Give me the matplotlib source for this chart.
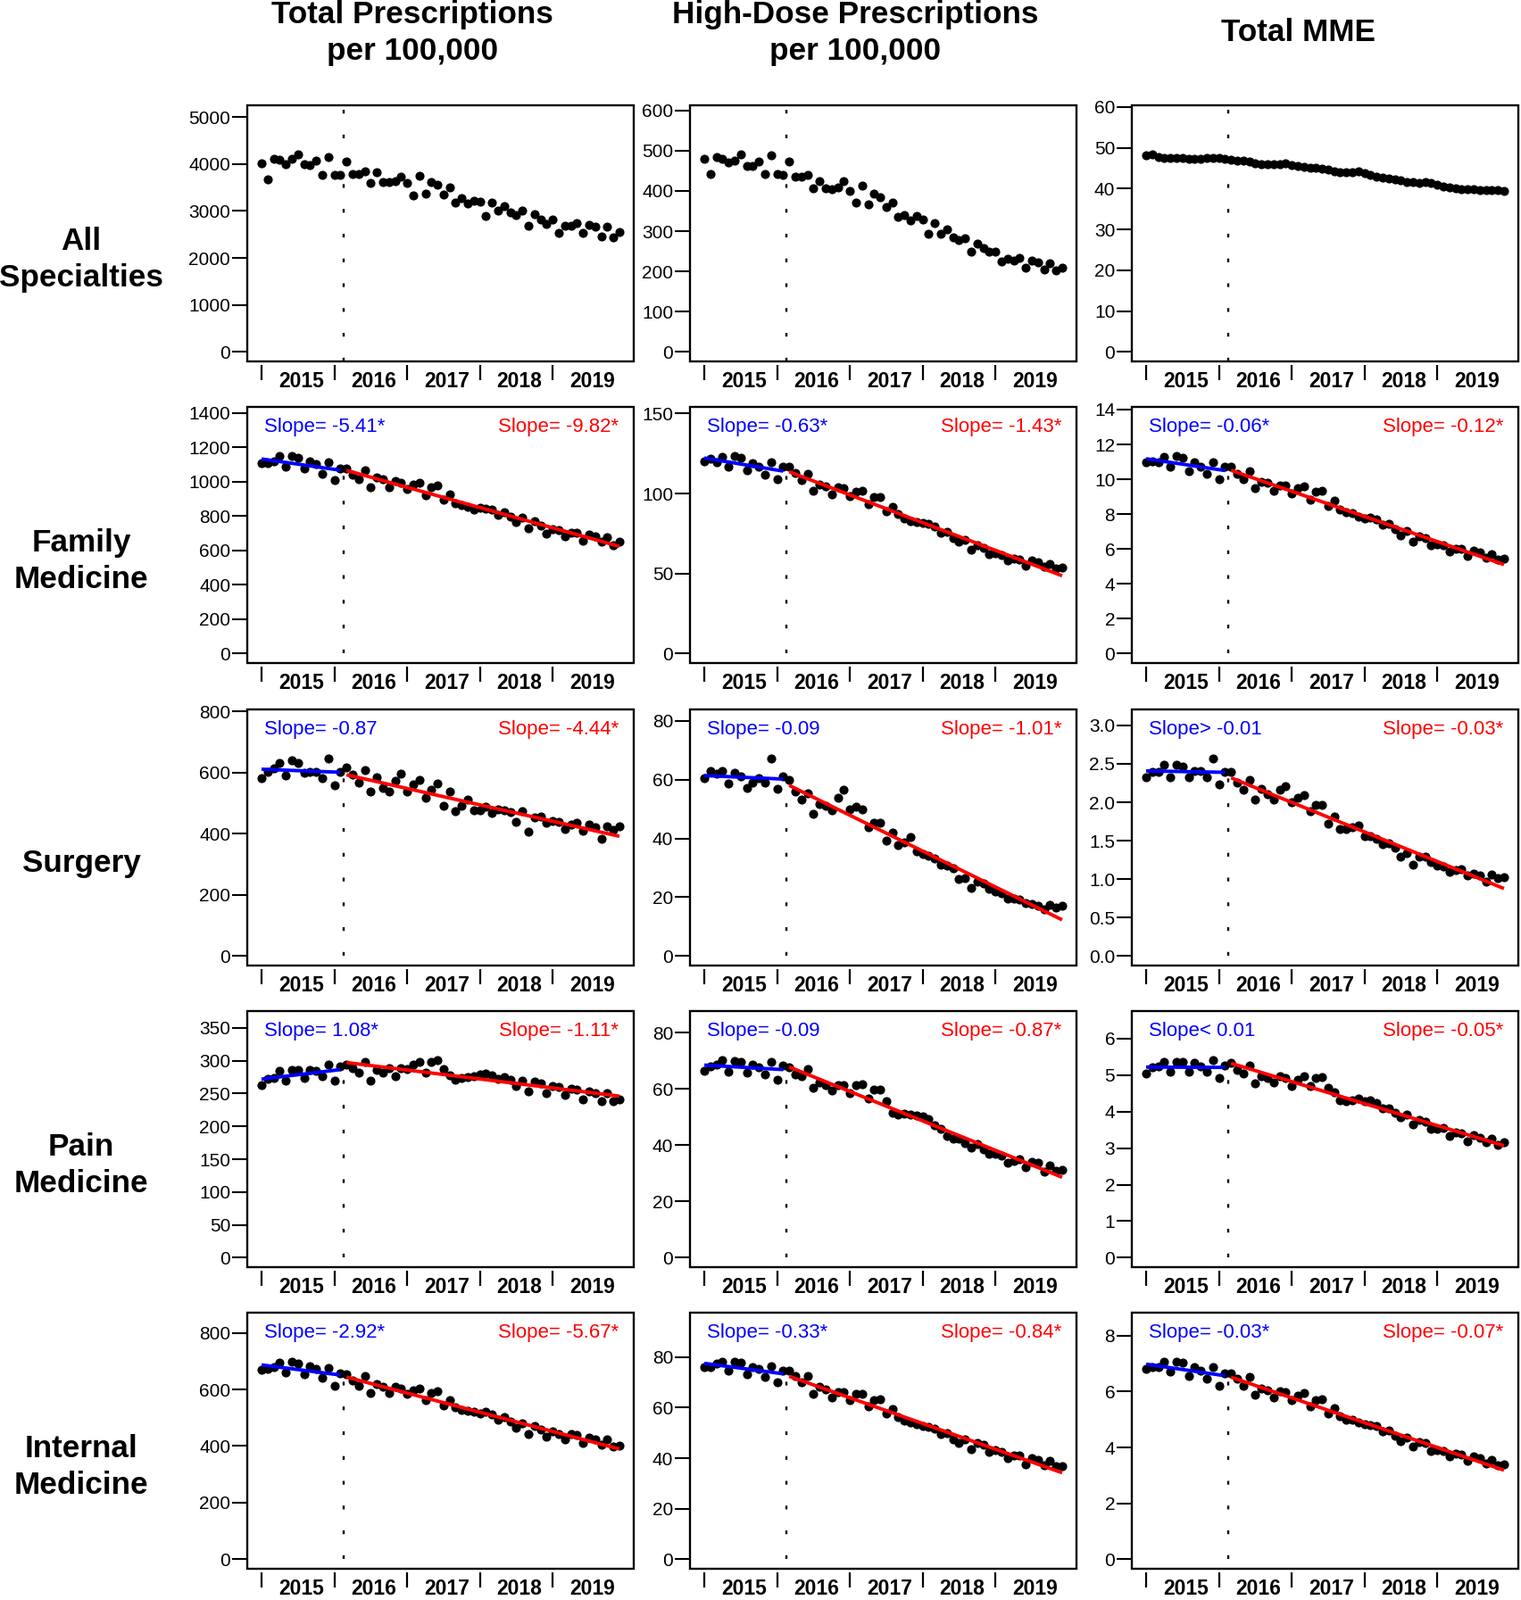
import numpy as np
import matplotlib
matplotlib.use("Agg")
import matplotlib.pyplot as plt
from matplotlib.patches import Rectangle
from matplotlib.ticker import NullFormatter

plt.rcParams['font.family'] = ['Liberation Sans', 'DejaVu Sans']
plt.rcParams['lines.scale_dashes'] = False

# ---------------- data ----------------
months = np.arange(60)                 # Jan 2015 .. Dec 2019
year_labels = ['2015', '2016', '2017', '2018', '2019']
year_starts = [0, 12, 24, 36, 48]
year_mids = [6.5, 18.5, 30.5, 42.5, 54.5]
break_x = 13.5                          # between Feb and Mar 2016
n_pre = 14

col_titles = ['Total Prescriptions\nper 100,000',
              'High-Dose Prescriptions\nper 100,000',
              'Total MME']
row_titles = ['All\nSpecialties', 'Family\nMedicine', 'Surgery',
              'Pain\nMedicine', 'Internal\nMedicine']

all_total = [4017, 3674, 4112, 4093, 3997, 4105, 4207, 3997, 3985, 4067, 3775, 4156,
             3763, 3763, 4061, 3794, 3794, 3851, 3598, 3820, 3623, 3617, 3629, 3737,
             3598, 3331, 3750, 3363, 3617, 3553, 3344, 3503, 3173, 3268, 3154, 3223,
             3192, 2900, 3173, 3001, 3109, 2963, 2919, 3014, 2678, 2938, 2824, 2728,
             2811, 2538, 2678, 2678, 2747, 2525, 2709, 2665, 2462, 2665, 2443, 2557]
all_hd = [479, 441, 485, 480, 470, 476, 491, 461, 461, 473, 443, 489,
          441, 439, 472, 436, 436, 439, 407, 424, 406, 404, 409, 424,
          400, 370, 413, 367, 394, 384, 359, 370, 335, 339, 327, 337,
          328, 294, 320, 294, 305, 285, 278, 283, 250, 269, 257, 250,
          250, 224, 231, 227, 233, 210, 228, 222, 204, 220, 202, 209]
all_mme = [48.2, 48.4, 47.8, 47.6, 47.6, 47.5, 47.5, 47.3, 47.2, 47.2, 47.4, 47.6,
           47.5, 47.3, 47.1, 46.9, 46.8, 46.6, 46.3, 46.0, 45.9, 45.9, 46.0, 46.3,
           45.8, 45.6, 45.4, 45.2, 45.0, 44.8, 44.6, 44.3, 44.1, 44.0, 44.1, 44.3,
           43.8, 43.4, 43.0, 42.7, 42.5, 42.3, 42.0, 41.7, 41.5, 41.4, 41.5, 41.4,
           41.0, 40.6, 40.2, 40.0, 39.9, 39.9, 39.8, 39.7, 39.6, 39.6, 39.6, 39.5]

fm_total = [1108, 1106, 1115, 1146, 1085, 1149, 1136, 1075, 1118, 1101, 1046, 1111,
            1008, 1077, 1077, 1042, 1015, 1063, 968, 1025, 1015, 968, 1002, 994,
            956, 980, 994, 921, 968, 976, 894, 928, 876, 864, 852, 835,
            847, 842, 835, 807, 821, 795, 764, 790, 726, 769, 743, 697,
            722, 717, 683, 703, 703, 657, 691, 683, 652, 679, 631, 648]
fm_hd = [120.0, 121.7, 119.4, 123.1, 117.0, 123.5, 122.2, 114.3, 118.9, 116.7, 112.0, 119.4,
         108.7, 116.7, 116.7, 113.0, 108.3, 112.4, 101.9, 105.6, 104.3, 99.6, 103.7, 103.3,
         98.5, 100.9, 101.9, 93.1, 97.8, 97.8, 88.9, 91.7, 87.0, 84.3, 83.0, 82.0,
         81.5, 80.9, 79.6, 75.4, 75.9, 72.2, 69.8, 71.3, 64.8, 67.6, 66.1, 62.0,
         62.4, 61.7, 58.0, 59.3, 58.7, 55.0, 58.3, 56.9, 54.1, 56.1, 53.1, 53.7]
fm_mme = [10.97, 11.05, 10.97, 11.31, 10.71, 11.34, 11.22, 10.49, 10.97, 10.71, 10.32, 11.00,
          9.98, 10.71, 10.71, 10.32, 10.00, 10.46, 9.47, 9.86, 9.78, 9.35, 9.64, 9.64,
          9.18, 9.47, 9.57, 8.84, 9.27, 9.35, 8.45, 8.76, 8.28, 8.11, 8.04, 7.87,
          7.77, 7.82, 7.70, 7.40, 7.43, 7.14, 6.80, 7.06, 6.41, 6.72, 6.63, 6.21,
          6.29, 6.21, 5.87, 6.00, 6.00, 5.58, 5.90, 5.78, 5.49, 5.70, 5.41, 5.44]

su_total = [583, 603, 613, 630, 589, 639, 630, 598, 603, 603, 583, 646,
            557, 603, 617, 594, 566, 607, 537, 584, 549, 537, 574, 596,
            537, 562, 576, 518, 544, 564, 490, 537, 474, 490, 513, 476,
            477, 487, 469, 479, 477, 471, 440, 474, 406, 452, 457, 435,
            442, 438, 416, 430, 435, 409, 430, 422, 382, 425, 411, 425]
su_hd = [60.5, 62.8, 62.0, 62.8, 58.7, 62.2, 61.0, 57.1, 59.1, 60.5, 59.1, 67.2,
         56.9, 61.0, 60.0, 55.9, 53.1, 55.4, 48.3, 51.8, 51.0, 49.5, 53.7, 56.7,
         49.8, 50.8, 50.0, 43.7, 45.3, 45.3, 39.2, 41.9, 37.7, 38.5, 40.5, 35.6,
         34.8, 34.1, 33.1, 31.1, 30.8, 29.8, 26.3, 26.5, 23.3, 25.3, 24.7, 23.0,
         22.0, 21.5, 19.6, 19.4, 19.2, 17.9, 17.6, 17.2, 15.9, 17.4, 16.6, 17.2]
su_mme = [2.33, 2.40, 2.40, 2.49, 2.33, 2.49, 2.47, 2.33, 2.41, 2.41, 2.33, 2.57,
          2.23, 2.39, 2.39, 2.26, 2.16, 2.29, 2.03, 2.17, 2.10, 2.03, 2.16, 2.21,
          2.00, 2.06, 2.09, 1.89, 1.96, 1.97, 1.72, 1.82, 1.65, 1.65, 1.68, 1.70,
          1.56, 1.56, 1.53, 1.46, 1.47, 1.41, 1.29, 1.34, 1.19, 1.29, 1.29, 1.22,
          1.18, 1.16, 1.09, 1.12, 1.13, 1.05, 1.07, 1.05, 0.97, 1.06, 1.01, 1.03]

pm_total = [263, 273, 274, 284, 269, 286, 286, 274, 286, 284, 276, 294,
            269, 291, 294, 288, 282, 298, 270, 286, 282, 288, 277, 288,
            287, 294, 298, 282, 298, 301, 287, 278, 271, 274, 275, 277,
            279, 280, 278, 273, 275, 271, 262, 270, 253, 268, 265, 250,
            261, 260, 248, 257, 256, 241, 253, 251, 238, 250, 238, 241]
pm_hd = [66.5, 68.1, 68.6, 70.2, 66.0, 69.7, 69.4, 65.6, 68.6, 67.5, 65.2, 69.4,
         63.3, 68.4, 67.5, 65.2, 64.4, 67.0, 60.2, 62.3, 61.2, 59.3, 61.4, 61.2,
         58.6, 61.2, 61.7, 56.5, 59.8, 59.8, 55.7, 51.5, 50.7, 51.2, 50.7, 50.4,
         50.1, 49.4, 47.0, 45.9, 43.3, 42.4, 42.4, 40.6, 39.1, 40.3, 38.5, 36.9,
         36.9, 36.4, 33.8, 34.3, 35.0, 32.2, 34.0, 33.8, 30.6, 32.7, 30.8, 31.1]
pm_mme = [5.05, 5.21, 5.23, 5.37, 5.08, 5.37, 5.35, 5.08, 5.33, 5.24, 5.08, 5.41,
          4.92, 5.27, 5.33, 5.15, 5.05, 5.27, 4.78, 4.97, 4.92, 4.80, 4.97, 4.92,
          4.70, 4.86, 4.98, 4.70, 4.92, 4.94, 4.66, 4.54, 4.32, 4.29, 4.32, 4.35,
          4.29, 4.32, 4.23, 4.09, 4.10, 3.97, 3.84, 3.91, 3.64, 3.78, 3.72, 3.52,
          3.53, 3.56, 3.34, 3.42, 3.40, 3.19, 3.36, 3.29, 3.15, 3.26, 3.09, 3.15]

im_total = [669, 672, 680, 695, 661, 698, 693, 653, 682, 672, 640, 677,
            614, 656, 653, 630, 614, 646, 588, 619, 611, 588, 609, 604,
            583, 596, 604, 562, 586, 593, 544, 562, 538, 527, 523, 520,
            514, 520, 512, 493, 502, 485, 464, 481, 441, 470, 457, 433,
            451, 443, 422, 441, 439, 412, 430, 425, 404, 422, 399, 402]
im_hd = [75.9, 76.2, 77.6, 78.2, 74.7, 78.2, 77.9, 73.2, 76.2, 75.3, 72.0, 76.5,
         70.0, 74.7, 74.7, 72.4, 70.0, 72.4, 65.6, 68.2, 67.1, 64.1, 66.1, 66.1,
         62.9, 65.3, 65.6, 60.6, 62.9, 63.5, 57.6, 59.4, 56.2, 54.7, 54.1, 53.5,
         52.7, 52.4, 51.8, 49.4, 50.0, 47.6, 46.1, 47.3, 43.5, 45.9, 45.3, 42.6,
         43.3, 42.6, 40.2, 41.2, 41.2, 37.6, 40.2, 39.4, 37.1, 38.8, 36.7, 36.7]
im_mme = [6.81, 6.89, 6.86, 7.07, 6.72, 7.07, 7.02, 6.57, 6.86, 6.76, 6.47, 6.86,
          6.22, 6.65, 6.65, 6.47, 6.22, 6.51, 5.90, 6.12, 6.06, 5.80, 6.01, 5.98,
          5.69, 5.87, 5.94, 5.48, 5.69, 5.74, 5.21, 5.40, 5.13, 5.00, 5.00, 4.89,
          4.84, 4.81, 4.77, 4.57, 4.60, 4.41, 4.23, 4.36, 4.02, 4.20, 4.15, 3.88,
          3.91, 3.88, 3.67, 3.78, 3.74, 3.51, 3.67, 3.62, 3.43, 3.56, 3.38, 3.40]

yticks = [
    [[0, 1000, 2000, 3000, 4000, 5000], [0, 100, 200, 300, 400, 500, 600], [0, 10, 20, 30, 40, 50, 60]],
    [[0, 200, 400, 600, 800, 1000, 1200, 1400], [0, 50, 100, 150], [0, 2, 4, 6, 8, 10, 12, 14]],
    [[0, 200, 400, 600, 800], [0, 20, 40, 60, 80], [0.0, 0.5, 1.0, 1.5, 2.0, 2.5, 3.0]],
    [[0, 50, 100, 150, 200, 250, 300, 350], [0, 20, 40, 60, 80], [0, 1, 2, 3, 4, 5, 6]],
    [[0, 200, 400, 600, 800], [0, 20, 40, 60, 80], [0, 2, 4, 6, 8]],
]

slope_pre = [
    [None, None, None],
    ['Slope= -5.41*', 'Slope= -0.63*', 'Slope= -0.06*'],
    ['Slope= -0.87', 'Slope= -0.09', 'Slope> -0.01'],
    ['Slope= 1.08*', 'Slope= -0.09', 'Slope< 0.01'],
    ['Slope= -2.92*', 'Slope= -0.33*', 'Slope= -0.03*'],
]
slope_post = [
    [None, None, None],
    ['Slope= -9.82*', 'Slope= -1.43*', 'Slope= -0.12*'],
    ['Slope= -4.44*', 'Slope= -1.01*', 'Slope= -0.03*'],
    ['Slope= -1.11*', 'Slope= -0.87*', 'Slope= -0.05*'],
    ['Slope= -5.67*', 'Slope= -0.84*', 'Slope= -0.07*'],
]

panels = [
    [all_total, all_hd, all_mme],
    [fm_total, fm_hd, fm_mme],
    [su_total, su_hd, su_mme],
    [pm_total, pm_hd, pm_mme],
    [im_total, im_hd, im_mme],
]

# ---------------- layout ----------------
W, H = 1704, 1793
fig = plt.figure(figsize=(W / 100, H / 100), dpi=100)
col_left = [277, 773, 1268]
row_top = [118, 456, 795, 1133, 1471]
pw, ph = 433, 287
BLUE = '#0000FF'
RED = '#FF0000'


def fmt(v, ticks):
    if all(float(t).is_integer() for t in ticks):
        return str(int(v))
    return f'{v:.1f}'


for r in range(5):
    for c in range(3):
        ax = fig.add_axes([col_left[c] / W, 1 - (row_top[r] + ph) / H, pw / W, ph / H])
        for s in ax.spines.values():
            s.set_visible(False)
        ax.spines['bottom'].set_position(('outward', 3))

        y = np.asarray(panels[r][c], dtype=float)
        M = 1.2 * y.max()
        ylo, yhi = -0.04 * M, 1.04 * M
        xlo, xhi = -0.04 * months[-1], 1.04 * months[-1]

        if r == 0:
            ax.plot([break_x, break_x], [ylo, yhi], color='black', lw=1.7,
                    ls=(0, (3.0, 17.0)), zorder=1)
        ax.plot(months, y, 'o', color='black', ms=6.3, mec='black', zorder=3)
        if r > 0:
            xp = months[:n_pre]
            xq = months[n_pre:]
            cp = np.polyfit(xp, y[:n_pre], 1)
            cq = np.polyfit(xq, y[n_pre:], 1)
            ax.plot([break_x, break_x], [0, np.polyval(cp, break_x)], color='black',
                    lw=1.7, ls=(0, (3.0, 17.0)), zorder=1)
            ax.plot(xp, np.polyval(cp, xp), color=BLUE, lw=2.8, zorder=4,
                    solid_capstyle='butt')
            ax.plot(xq, np.polyval(cq, xq), color=RED, lw=2.8, zorder=4,
                    solid_capstyle='butt')
            ax.text(0.043, 0.923, slope_pre[r][c], color=BLUE, fontsize=16,
                    transform=ax.transAxes, ha='left', va='center')
            ax.text(0.961, 0.923, slope_post[r][c], color=RED, fontsize=16,
                    transform=ax.transAxes, ha='right', va='center')

        ax.set_xlim(xlo, xhi)
        ax.set_ylim(ylo, yhi)

        tk = yticks[r][c]
        ax.set_yticks(tk, labels=[fmt(v, tk) for v in tk])
        ax.tick_params(axis='y', direction='out', length=12.5, width=1.5,
                       pad=1, labelsize=15)

        ax.set_xticks(year_starts)
        ax.xaxis.set_major_formatter(NullFormatter())
        ax.set_xticks(year_mids, labels=year_labels, minor=True)
        ax.tick_params(axis='x', which='major', direction='out', length=12.5,
                       width=1.6)
        ax.tick_params(axis='x', which='minor', length=0, pad=4.8, labelsize=16.5)
        for lab in ax.xaxis.get_minorticklabels():
            lab.set_fontweight('bold')

        ax.add_patch(Rectangle((0, 0), 1, 1, transform=ax.transAxes, fill=False,
                               lw=1.7, ec='black', clip_on=False, zorder=6))

# column headers
header_x = [462, 958, 1454]
for c in range(3):
    fig.text(header_x[c] / W, 1 - 37 / H, col_titles[c], ha='center', va='center',
             fontsize=25.3, fontweight='bold', multialignment='center', linespacing=1.3)

# row labels
row_y = [t + 173 for t in row_top]
for r in range(5):
    fig.text(91 / W, 1 - row_y[r] / H, row_titles[r], ha='center', va='center',
             fontsize=25.3, fontweight='bold', multialignment='center', linespacing=1.3)

fig.savefig('out.png', dpi=100)
